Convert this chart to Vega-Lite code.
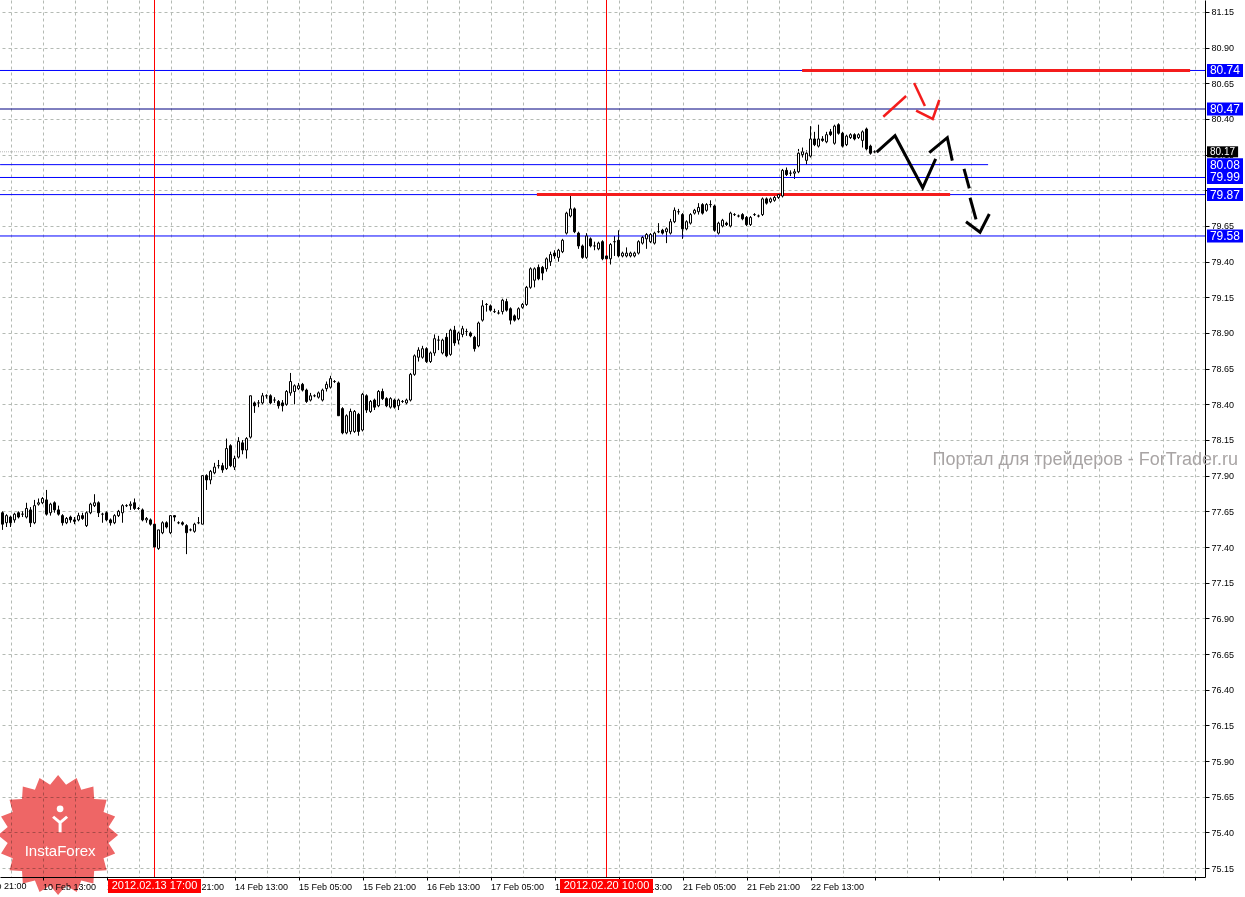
{
  "$schema": "https://vega.github.io/schema/vega-lite/v6.json",
  "width": 1205,
  "height": 877,
  "autosize": {"type": "none"},
  "padding": {"left": 0, "top": 0, "right": 40, "bottom": 20},
  "background": "white",
  "config": {"view": {"stroke": null}, "font": "Liberation Sans", "scale": {"continuousPadding": 0}},
  "datasets": {
    "candles": [
      {"i":0,"o":77.64,"h":77.65,"l":77.52,"c":77.56},{"i":1,"o":77.57,"h":77.63,"l":77.54,"c":77.62},{"i":2,"o":77.61,"h":77.62,"l":77.54,"c":77.57},{"i":3,"o":77.59,"h":77.64,"l":77.57,"c":77.63},{"i":4,"o":77.64,"h":77.65,"l":77.60,"c":77.61},{"i":5,"o":77.63,"h":77.65,"l":77.61,"c":77.63},{"i":6,"o":77.61,"h":77.71,"l":77.60,"c":77.67},{"i":7,"o":77.66,"h":77.68,"l":77.54,"c":77.57},{"i":8,"o":77.57,"h":77.73,"l":77.56,"c":77.69},{"i":9,"o":77.70,"h":77.74,"l":77.69,"c":77.71},
      {"i":10,"o":77.71,"h":77.75,"l":77.70,"c":77.74},{"i":11,"o":77.73,"h":77.80,"l":77.62,"c":77.63},{"i":12,"o":77.64,"h":77.71,"l":77.62,"c":77.70},{"i":13,"o":77.71,"h":77.72,"l":77.64,"c":77.66},{"i":14,"o":77.66,"h":77.69,"l":77.62,"c":77.63},{"i":15,"o":77.62,"h":77.63,"l":77.55,"c":77.57},{"i":16,"o":77.57,"h":77.61,"l":77.56,"c":77.60},{"i":17,"o":77.61,"h":77.62,"l":77.57,"c":77.59},{"i":18,"o":77.59,"h":77.61,"l":77.56,"c":77.58},{"i":19,"o":77.59,"h":77.64,"l":77.58,"c":77.62},
      {"i":20,"o":77.62,"h":77.64,"l":77.59,"c":77.60},{"i":21,"o":77.55,"h":77.65,"l":77.54,"c":77.64},{"i":22,"o":77.64,"h":77.71,"l":77.63,"c":77.70},{"i":23,"o":77.69,"h":77.77,"l":77.68,"c":77.71},{"i":24,"o":77.71,"h":77.72,"l":77.61,"c":77.64},{"i":25,"o":77.63,"h":77.64,"l":77.57,"c":77.63},{"i":26,"o":77.64,"h":77.65,"l":77.58,"c":77.59},{"i":27,"o":77.59,"h":77.60,"l":77.55,"c":77.57},{"i":28,"o":77.57,"h":77.63,"l":77.56,"c":77.62},{"i":29,"o":77.62,"h":77.66,"l":77.61,"c":77.65},
      {"i":30,"o":77.64,"h":77.70,"l":77.57,"c":77.69},{"i":31,"o":77.69,"h":77.70,"l":77.68,"c":77.69},{"i":32,"o":77.69,"h":77.72,"l":77.66,"c":77.70},{"i":33,"o":77.71,"h":77.74,"l":77.66,"c":77.67},{"i":34,"o":77.67,"h":77.68,"l":77.66,"c":77.67},{"i":35,"o":77.66,"h":77.67,"l":77.58,"c":77.59},{"i":36,"o":77.59,"h":77.61,"l":77.57,"c":77.60},{"i":37,"o":77.59,"h":77.60,"l":77.55,"c":77.56},{"i":38,"o":77.56,"h":77.57,"l":77.40,"c":77.40},{"i":39,"o":77.39,"h":77.52,"l":77.38,"c":77.52},
      {"i":40,"o":77.50,"h":77.58,"l":77.49,"c":77.57},{"i":41,"o":77.57,"h":77.58,"l":77.53,"c":77.54},{"i":42,"o":77.50,"h":77.62,"l":77.49,"c":77.62},{"i":43,"o":77.62,"h":77.62,"l":77.58,"c":77.61},{"i":44,"o":77.57,"h":77.58,"l":77.56,"c":77.57},{"i":45,"o":77.57,"h":77.58,"l":77.55,"c":77.56},{"i":46,"o":77.55,"h":77.56,"l":77.35,"c":77.50},{"i":47,"o":77.52,"h":77.53,"l":77.51,"c":77.52},{"i":48,"o":77.51,"h":77.57,"l":77.50,"c":77.56},{"i":49,"o":77.57,"h":77.61,"l":77.56,"c":77.57},
      {"i":50,"o":77.56,"h":77.90,"l":77.56,"c":77.90},{"i":51,"o":77.90,"h":77.91,"l":77.80,"c":77.87},{"i":52,"o":77.87,"h":77.94,"l":77.84,"c":77.93},{"i":53,"o":77.92,"h":77.99,"l":77.91,"c":77.96},{"i":54,"o":77.97,"h":78.01,"l":77.95,"c":77.97},{"i":55,"o":77.97,"h":77.99,"l":77.92,"c":77.94},{"i":56,"o":77.95,"h":78.16,"l":77.94,"c":78.09},{"i":57,"o":78.11,"h":78.12,"l":77.96,"c":77.97},{"i":58,"o":77.96,"h":78.04,"l":77.94,"c":78.02},{"i":59,"o":78.03,"h":78.17,"l":78.02,"c":78.14},
      {"i":60,"o":78.13,"h":78.15,"l":78.05,"c":78.08},{"i":61,"o":78.08,"h":78.17,"l":78.02,"c":78.16},{"i":62,"o":78.17,"h":78.46,"l":78.16,"c":78.46},{"i":63,"o":78.41,"h":78.42,"l":78.34,"c":78.39},{"i":64,"o":78.41,"h":78.43,"l":78.38,"c":78.41},{"i":65,"o":78.41,"h":78.48,"l":78.40,"c":78.46},{"i":66,"o":78.46,"h":78.47,"l":78.44,"c":78.46},{"i":67,"o":78.46,"h":78.47,"l":78.40,"c":78.41},{"i":68,"o":78.43,"h":78.45,"l":78.41,"c":78.43},{"i":69,"o":78.42,"h":78.43,"l":78.37,"c":78.39},
      {"i":70,"o":78.41,"h":78.43,"l":78.35,"c":78.39},{"i":71,"o":78.40,"h":78.50,"l":78.39,"c":78.49},{"i":72,"o":78.48,"h":78.62,"l":78.46,"c":78.56},{"i":73,"o":78.49,"h":78.54,"l":78.40,"c":78.53},{"i":74,"o":78.51,"h":78.55,"l":78.50,"c":78.53},{"i":75,"o":78.54,"h":78.55,"l":78.49,"c":78.50},{"i":76,"o":78.50,"h":78.51,"l":78.41,"c":78.42},{"i":77,"o":78.43,"h":78.48,"l":78.42,"c":78.46},{"i":78,"o":78.46,"h":78.47,"l":78.45,"c":78.46},{"i":79,"o":78.45,"h":78.49,"l":78.44,"c":78.48},
      {"i":80,"o":78.43,"h":78.51,"l":78.42,"c":78.50},{"i":81,"o":78.51,"h":78.56,"l":78.49,"c":78.54},{"i":82,"o":78.52,"h":78.60,"l":78.51,"c":78.58},{"i":83,"o":78.56,"h":78.57,"l":78.55,"c":78.56},{"i":84,"o":78.55,"h":78.56,"l":78.32,"c":78.32},{"i":85,"o":78.37,"h":78.38,"l":78.19,"c":78.20},{"i":86,"o":78.20,"h":78.33,"l":78.19,"c":78.32},{"i":87,"o":78.21,"h":78.37,"l":78.19,"c":78.35},{"i":88,"o":78.21,"h":78.36,"l":78.20,"c":78.35},{"i":89,"o":78.33,"h":78.34,"l":78.18,"c":78.21},
      {"i":90,"o":78.22,"h":78.48,"l":78.21,"c":78.47},{"i":91,"o":78.46,"h":78.47,"l":78.34,"c":78.36},{"i":92,"o":78.35,"h":78.43,"l":78.34,"c":78.42},{"i":93,"o":78.43,"h":78.44,"l":78.36,"c":78.38},{"i":94,"o":78.39,"h":78.50,"l":78.38,"c":78.49},{"i":95,"o":78.49,"h":78.51,"l":78.43,"c":78.44},{"i":96,"o":78.44,"h":78.45,"l":78.38,"c":78.39},{"i":97,"o":78.38,"h":78.45,"l":78.37,"c":78.44},{"i":98,"o":78.43,"h":78.44,"l":78.37,"c":78.38},{"i":99,"o":78.39,"h":78.44,"l":78.36,"c":78.43},
      {"i":100,"o":78.42,"h":78.43,"l":78.41,"c":78.42},{"i":101,"o":78.41,"h":78.44,"l":78.40,"c":78.43},{"i":102,"o":78.43,"h":78.62,"l":78.42,"c":78.61},{"i":103,"o":78.61,"h":78.75,"l":78.60,"c":78.74},{"i":104,"o":78.73,"h":78.80,"l":78.70,"c":78.78},{"i":105,"o":78.73,"h":78.81,"l":78.72,"c":78.79},{"i":106,"o":78.79,"h":78.80,"l":78.69,"c":78.70},{"i":107,"o":78.70,"h":78.77,"l":78.69,"c":78.76},{"i":108,"o":78.76,"h":78.89,"l":78.74,"c":78.86},{"i":109,"o":78.85,"h":78.88,"l":78.78,"c":78.85},
      {"i":110,"o":78.76,"h":78.86,"l":78.75,"c":78.85},{"i":111,"o":78.87,"h":78.90,"l":78.73,"c":78.74},{"i":112,"o":78.75,"h":78.93,"l":78.74,"c":78.92},{"i":113,"o":78.92,"h":78.95,"l":78.81,"c":78.83},{"i":114,"o":78.85,"h":78.91,"l":78.82,"c":78.90},{"i":115,"o":78.89,"h":78.95,"l":78.87,"c":78.93},{"i":116,"o":78.91,"h":78.93,"l":78.88,"c":78.91},{"i":117,"o":78.90,"h":78.91,"l":78.87,"c":78.88},{"i":118,"o":78.87,"h":78.88,"l":78.77,"c":78.79},{"i":119,"o":78.81,"h":78.98,"l":78.80,"c":78.97},
      {"i":120,"o":78.99,"h":79.13,"l":78.98,"c":79.09},{"i":121,"o":79.10,"h":79.11,"l":79.05,"c":79.10},{"i":122,"o":79.09,"h":79.10,"l":79.05,"c":79.06},{"i":123,"o":79.05,"h":79.07,"l":79.04,"c":79.05},{"i":124,"o":79.04,"h":79.06,"l":79.03,"c":79.04},{"i":125,"o":79.05,"h":79.14,"l":79.03,"c":79.13},{"i":126,"o":79.12,"h":79.14,"l":79.05,"c":79.06},{"i":127,"o":79.07,"h":79.08,"l":78.96,"c":78.99},{"i":128,"o":79.02,"h":79.03,"l":78.98,"c":78.99},{"i":129,"o":79.00,"h":79.08,"l":78.99,"c":79.07},
      {"i":130,"o":79.08,"h":79.11,"l":79.07,"c":79.10},{"i":131,"o":79.10,"h":79.23,"l":79.09,"c":79.22},{"i":132,"o":79.22,"h":79.36,"l":79.21,"c":79.35},{"i":133,"o":79.27,"h":79.36,"l":79.22,"c":79.35},{"i":134,"o":79.36,"h":79.38,"l":79.27,"c":79.28},{"i":135,"o":79.36,"h":79.37,"l":79.27,"c":79.32},{"i":136,"o":79.35,"h":79.43,"l":79.33,"c":79.42},{"i":137,"o":79.40,"h":79.47,"l":79.37,"c":79.45},{"i":138,"o":79.46,"h":79.48,"l":79.42,"c":79.44},{"i":139,"o":79.43,"h":79.49,"l":79.40,"c":79.48},
      {"i":140,"o":79.47,"h":79.56,"l":79.46,"c":79.55},{"i":141,"o":79.60,"h":79.75,"l":79.59,"c":79.74},{"i":142,"o":79.72,"h":79.88,"l":79.71,"c":79.77},{"i":143,"o":79.77,"h":79.78,"l":79.60,"c":79.61},{"i":144,"o":79.60,"h":79.61,"l":79.49,"c":79.51},{"i":145,"o":79.51,"h":79.52,"l":79.42,"c":79.43},{"i":146,"o":79.43,"h":79.60,"l":79.42,"c":79.58},{"i":147,"o":79.56,"h":79.57,"l":79.50,"c":79.51},{"i":148,"o":79.51,"h":79.54,"l":79.48,"c":79.51},{"i":149,"o":79.49,"h":79.54,"l":79.48,"c":79.53},
      {"i":150,"o":79.54,"h":79.55,"l":79.41,"c":79.42},{"i":151,"o":79.44,"h":79.45,"l":79.41,"c":79.42},{"i":152,"o":79.42,"h":79.53,"l":79.38,"c":79.52},{"i":153,"o":79.54,"h":79.58,"l":79.44,"c":79.54},{"i":154,"o":79.55,"h":79.62,"l":79.43,"c":79.44},{"i":155,"o":79.44,"h":79.47,"l":79.43,"c":79.46},{"i":156,"o":79.44,"h":79.50,"l":79.43,"c":79.46},{"i":157,"o":79.44,"h":79.47,"l":79.43,"c":79.46},{"i":158,"o":79.44,"h":79.47,"l":79.43,"c":79.46},{"i":159,"o":79.46,"h":79.55,"l":79.45,"c":79.54},
      {"i":160,"o":79.53,"h":79.58,"l":79.52,"c":79.57},{"i":161,"o":79.56,"h":79.60,"l":79.49,"c":79.59},{"i":162,"o":79.54,"h":79.60,"l":79.53,"c":79.59},{"i":163,"o":79.53,"h":79.61,"l":79.52,"c":79.60},{"i":164,"o":79.61,"h":79.67,"l":79.60,"c":79.61},{"i":165,"o":79.62,"h":79.63,"l":79.59,"c":79.60},{"i":166,"o":79.61,"h":79.64,"l":79.53,"c":79.63},{"i":167,"o":79.60,"h":79.70,"l":79.59,"c":79.68},{"i":168,"o":79.68,"h":79.78,"l":79.67,"c":79.76},{"i":169,"o":79.75,"h":79.77,"l":79.73,"c":79.75},
      {"i":170,"o":79.73,"h":79.74,"l":79.56,"c":79.63},{"i":171,"o":79.63,"h":79.69,"l":79.62,"c":79.68},{"i":172,"o":79.67,"h":79.74,"l":79.66,"c":79.73},{"i":173,"o":79.74,"h":79.77,"l":79.73,"c":79.76},{"i":174,"o":79.75,"h":79.81,"l":79.73,"c":79.78},{"i":175,"o":79.80,"h":79.81,"l":79.73,"c":79.74},{"i":176,"o":79.76,"h":79.81,"l":79.75,"c":79.80},{"i":177,"o":79.80,"h":79.83,"l":79.78,"c":79.80},{"i":178,"o":79.79,"h":79.80,"l":79.61,"c":79.62},{"i":179,"o":79.60,"h":79.68,"l":79.59,"c":79.67},
      {"i":180,"o":79.65,"h":79.70,"l":79.64,"c":79.69},{"i":181,"o":79.67,"h":79.68,"l":79.65,"c":79.66},{"i":182,"o":79.65,"h":79.75,"l":79.64,"c":79.74},{"i":183,"o":79.73,"h":79.74,"l":79.72,"c":79.73},{"i":184,"o":79.72,"h":79.73,"l":79.71,"c":79.72},{"i":185,"o":79.73,"h":79.74,"l":79.69,"c":79.70},{"i":186,"o":79.71,"h":79.72,"l":79.65,"c":79.66},{"i":187,"o":79.66,"h":79.72,"l":79.65,"c":79.71},{"i":188,"o":79.73,"h":79.74,"l":79.72,"c":79.73},{"i":189,"o":79.72,"h":79.73,"l":79.71,"c":79.72},
      {"i":190,"o":79.73,"h":79.85,"l":79.72,"c":79.84},{"i":191,"o":79.84,"h":79.85,"l":79.80,"c":79.81},{"i":192,"o":79.82,"h":79.85,"l":79.81,"c":79.84},{"i":193,"o":79.83,"h":79.87,"l":79.82,"c":79.85},{"i":194,"o":79.85,"h":79.88,"l":79.84,"c":79.87},{"i":195,"o":79.86,"h":80.05,"l":79.85,"c":80.04},{"i":196,"o":80.04,"h":80.06,"l":80.00,"c":80.01},{"i":197,"o":80.02,"h":80.04,"l":80.00,"c":80.02},{"i":198,"o":80.02,"h":80.05,"l":79.98,"c":80.03},{"i":199,"o":80.03,"h":80.19,"l":80.02,"c":80.16},
      {"i":200,"o":80.15,"h":80.20,"l":80.13,"c":80.17},{"i":201,"o":80.11,"h":80.18,"l":80.08,"c":80.16},{"i":202,"o":80.14,"h":80.35,"l":80.13,"c":80.26},{"i":203,"o":80.26,"h":80.31,"l":80.21,"c":80.22},{"i":204,"o":80.21,"h":80.36,"l":80.20,"c":80.26},{"i":205,"o":80.26,"h":80.28,"l":80.24,"c":80.25},{"i":206,"o":80.24,"h":80.31,"l":80.23,"c":80.29},{"i":207,"o":80.31,"h":80.33,"l":80.28,"c":80.29},{"i":208,"o":80.23,"h":80.36,"l":80.22,"c":80.35},{"i":209,"o":80.36,"h":80.37,"l":80.29,"c":80.30},
      {"i":210,"o":80.30,"h":80.31,"l":80.20,"c":80.21},{"i":211,"o":80.22,"h":80.29,"l":80.21,"c":80.28},{"i":212,"o":80.27,"h":80.30,"l":80.26,"c":80.29},{"i":213,"o":80.29,"h":80.30,"l":80.25,"c":80.26},{"i":214,"o":80.27,"h":80.30,"l":80.26,"c":80.29},{"i":215,"o":80.25,"h":80.32,"l":80.20,"c":80.31},{"i":216,"o":80.33,"h":80.34,"l":80.18,"c":80.19},{"i":217,"o":80.21,"h":80.22,"l":80.15,"c":80.16},{"i":218,"o":80.17,"h":80.18,"l":80.16,"c":80.17}
    ],
    "levels": [
      {"p": 80.74, "col": "#0000ff"},
      {"p": 80.47, "col": "#000080"},
      {"p": 79.99, "col": "#0000ff"},
      {"p": 79.87, "col": "#0000ff"},
      {"p": 79.58, "col": "#0000ff"}
    ],
    "partial": [{"p": 80.08, "from": -0.6, "to": 246.4}],
    "bid": [{"p": 80.17}],
    "vlines": [
      {"i": 38, "label": "2012.02.13 17:00"},
      {"i": 151, "label": "2012.02.20 10:00"}
    ],
    "trend": [
      {"p": 80.74, "from": 199.9, "to": 296.9},
      {"p": 79.87, "from": 133.6, "to": 236.9}
    ],
    "forecast": [
      {"seg": "a", "k": 0, "i": 218.55, "p": 80.167},
      {"seg": "a", "k": 1, "i": 223.13, "p": 80.283},
      {"seg": "a", "k": 2, "i": 230.05, "p": 79.918},
      {"seg": "a", "k": 3, "i": 233.3, "p": 80.12},
      {"seg": "b", "k": 0, "i": 231.7, "p": 80.164},
      {"seg": "b", "k": 1, "i": 236.2, "p": 80.269},
      {"seg": "b", "k": 2, "i": 237.45, "p": 80.108},
      {"seg": "c", "k": 0, "i": 240.38, "p": 80.05},
      {"seg": "c", "k": 1, "i": 241.7, "p": 79.914},
      {"seg": "d", "k": 0, "i": 241.88, "p": 79.848},
      {"seg": "d", "k": 1, "i": 243.38, "p": 79.697},
      {"seg": "e", "k": 0, "i": 240.88, "p": 79.68},
      {"seg": "e", "k": 1, "i": 244.38, "p": 79.606},
      {"seg": "e", "k": 2, "i": 246.7, "p": 79.734}
    ],
    "redArrows": [
      {"seg": "r1", "k": 0, "i": 220.2, "p": 80.416},
      {"seg": "r1", "k": 1, "i": 225.9, "p": 80.561},
      {"seg": "r2", "k": 0, "i": 227.9, "p": 80.652},
      {"seg": "r2", "k": 1, "i": 230.6, "p": 80.491},
      {"seg": "r3", "k": 0, "i": 228.4, "p": 80.458},
      {"seg": "r3", "k": 1, "i": 232.55, "p": 80.40},
      {"seg": "r3", "k": 2, "i": 234.2, "p": 80.533}
    ],
    "blueTags": [{"p": 80.74}, {"p": 80.47}, {"p": 80.08}, {"p": 79.99}, {"p": 79.87}, {"p": 79.58}],
    "blackTags": [{"p": 80.17}]
  },
  "layer": [
    {
      "data": {"name": "candles"},
      "mark": {"type": "rule", "color": "black", "strokeWidth": 1},
      "encoding": {
        "x": {
          "field": "i", "type": "quantitative", "title": null,
          "scale": {"domain": [-0.625, 300.625], "nice": false, "zero": false, "padding": 0},
          "axis": {
            "orient": "bottom", "title": null, "tickCount": 200,
            "values": [2,10,18,26,34,42,50,58,66,74,82,90,98,106,114,122,130,138,146,154,162,170,178,186,194,202,210,218,226,234,242,250,258,266,274,282,290,298],
            "grid": true, "gridDash": [3, 3], "gridColor": "#b4bab4", "gridWidth": 1,
            "domainColor": "black", "domainWidth": 1,
            "tickColor": "black", "tickSize": 3,
            "tickOpacity": {"condition": {"test": "(datum.value + 6) % 16 == 0", "value": 1}, "value": 0},
            "labelExpr": "(datum.value + 6) % 16 == 0 ? (['9 Feb 21:00','10 Feb 13:00','13 Feb 05:00','13 Feb 21:00','14 Feb 13:00','15 Feb 05:00','15 Feb 21:00','16 Feb 13:00','17 Feb 05:00','17 Feb 21:00','20 Feb 13:00','21 Feb 05:00','21 Feb 21:00','22 Feb 13:00'][(datum.value + 6) / 16] || '') : ''",
            "labelAlign": "left", "labelFontSize": 9, "labelColor": "black", "labelPadding": 2,
            "labelOverlap": false, "labelFlush": false, "labelBound": false
          }
        },
        "y": {
          "field": "l", "type": "quantitative", "title": null,
          "scale": {"domain": [75.087, 81.234], "nice": false, "zero": false, "padding": 0},
          "axis": {
            "orient": "right", "title": null, "tickCount": 200,
            "values": [75.15,75.40,75.65,75.90,76.15,76.40,76.65,76.90,77.15,77.40,77.65,77.90,78.15,78.40,78.65,78.90,79.15,79.40,79.65,79.90,80.15,80.40,80.65,80.90,81.15],
            "format": ".2f",
            "grid": true, "gridDash": [3, 3], "gridColor": "#b4bab4", "gridWidth": 1,
            "domainColor": "black", "domainWidth": 1,
            "tickColor": "black", "tickSize": 4,
            "labelFontSize": 9, "labelColor": "black", "labelPadding": 2,
            "labelOverlap": false, "labelFlush": false, "labelBound": false
          }
        },
        "y2": {"field": "h"}
      }
    },
    {
      "data": {"values": [{"i": -6, "t": "9 Feb 21:00"}]},
      "mark": {"type": "text", "color": "black", "fontSize": 9, "align": "left", "baseline": "top", "dy": 5},
      "encoding": {
        "x": {"field": "i", "type": "quantitative", "title": null},
        "y": {"datum": 75.087, "title": null},
        "text": {"field": "t"}
      }
    },
    {
      "data": {"name": "bid"},
      "mark": {"type": "rule", "color": "#b8b8b8", "strokeWidth": 1, "strokeDash": [1, 1]},
      "encoding": {"y": {"field": "p", "type": "quantitative", "title": null}}
    },
    {
      "data": {"name": "levels"},
      "mark": {"type": "rule", "strokeWidth": 1},
      "encoding": {
        "y": {"field": "p", "type": "quantitative", "title": null},
        "color": {"field": "col", "type": "nominal", "scale": null}
      }
    },
    {
      "data": {"name": "partial"},
      "mark": {"type": "rule", "color": "#0000ff", "strokeWidth": 1},
      "encoding": {
        "x": {"field": "from", "type": "quantitative", "title": null},
        "x2": {"field": "to"},
        "y": {"field": "p", "type": "quantitative", "title": null}
      }
    },
    {
      "data": {"name": "vlines"},
      "mark": {"type": "rule", "color": "#ff0000", "strokeWidth": 1},
      "encoding": {"x": {"field": "i", "type": "quantitative", "title": null}}
    },
    {
      "data": {"name": "trend"},
      "mark": {"type": "rule", "color": "#f41c1c", "strokeWidth": 3},
      "encoding": {
        "x": {"field": "from", "type": "quantitative", "title": null},
        "x2": {"field": "to"},
        "y": {"field": "p", "type": "quantitative", "title": null}
      }
    },
    {
      "data": {"name": "candles"},
      "mark": {"type": "bar", "width": 2, "stroke": "black", "strokeWidth": 1, "orient": "vertical"},
      "encoding": {
        "x": {"field": "i", "type": "quantitative", "title": null},
        "y": {"field": "o", "type": "quantitative", "title": null},
        "y2": {"field": "c"},
        "fill": {"condition": {"test": "datum.c >= datum.o", "value": "white"}, "value": "black"}
      }
    },
    {
      "data": {"name": "forecast"},
      "mark": {"type": "line", "color": "black", "strokeWidth": 3, "strokeCap": "butt"},
      "encoding": {
        "x": {"field": "i", "type": "quantitative", "title": null},
        "y": {"field": "p", "type": "quantitative", "title": null},
        "detail": {"field": "seg"},
        "order": {"field": "k"}
      }
    },
    {
      "data": {"name": "redArrows"},
      "mark": {"type": "line", "color": "#f41c1c", "strokeWidth": 2.5, "strokeCap": "butt"},
      "encoding": {
        "x": {"field": "i", "type": "quantitative", "title": null},
        "y": {"field": "p", "type": "quantitative", "title": null},
        "detail": {"field": "seg"},
        "order": {"field": "k"}
      }
    },
    {
      "data": {"name": "blueTags"},
      "mark": {"type": "bar", "color": "#0000ff", "height": 13, "orient": "horizontal"},
      "encoding": {
        "x": {"datum": 301.125, "title": null},
        "x2": {"datum": 310.125},
        "y": {"field": "p", "type": "quantitative", "title": null}
      }
    },
    {
      "data": {"name": "blueTags"},
      "mark": {"type": "text", "color": "white", "fontSize": 12, "align": "center", "baseline": "middle"},
      "encoding": {
        "x": {"datum": 305.6, "title": null},
        "y": {"field": "p", "type": "quantitative", "title": null},
        "text": {"field": "p", "type": "quantitative", "format": ".2f"}
      }
    },
    {
      "data": {"name": "blackTags"},
      "mark": {"type": "bar", "color": "black", "height": 11, "orient": "horizontal"},
      "encoding": {
        "x": {"datum": 301.125, "title": null},
        "x2": {"datum": 308.9},
        "y": {"field": "p", "type": "quantitative", "title": null}
      }
    },
    {
      "data": {"name": "blackTags"},
      "mark": {"type": "text", "color": "white", "fontSize": 10, "align": "center", "baseline": "middle"},
      "encoding": {
        "x": {"datum": 305.0, "title": null},
        "y": {"field": "p", "type": "quantitative", "title": null},
        "text": {"field": "p", "type": "quantitative", "format": ".2f"}
      }
    },
    {
      "data": {"name": "vlines"},
      "mark": {"type": "bar", "color": "#ff0000", "width": 93, "orient": "vertical"},
      "encoding": {
        "x": {"field": "i", "type": "quantitative", "title": null},
        "y": {"datum": 75.073, "title": null},
        "y2": {"datum": 74.975}
      }
    },
    {
      "data": {"name": "vlines"},
      "mark": {"type": "text", "color": "white", "fontSize": 11, "align": "center", "baseline": "middle"},
      "encoding": {
        "x": {"field": "i", "type": "quantitative", "title": null},
        "y": {"datum": 75.024, "title": null},
        "text": {"field": "label"}
      }
    },
    {
      "data": {"values": [{"t": "Портал для трейдеров - ForTrader.ru"}]},
      "mark": {"type": "text", "color": "#a8a4a4", "fontSize": 18, "align": "right", "baseline": "middle"},
      "encoding": {
        "x": {"datum": 308.9, "title": null},
        "y": {"datum": 78.01, "title": null},
        "text": {"field": "t"}
      }
    },
    {
      "data": {"values": [{"name": "InstaForex"}]},
      "mark": {"type": "point", "filled": true, "color": "#ee6666", "opacity": 1, "blend": "multiply", "size": 14400,
        "shape": "M1,0L0.840,0.133L0.951,0.309L0.757,0.386L0.809,0.588L0.601,0.601L0.588,0.809L0.386,0.757L0.309,0.951L0.133,0.840L0,1L-0.133,0.840L-0.309,0.951L-0.386,0.757L-0.588,0.809L-0.601,0.601L-0.809,0.588L-0.757,0.386L-0.951,0.309L-0.840,0.133L-1,0L-0.840,-0.133L-0.951,-0.309L-0.757,-0.386L-0.809,-0.588L-0.601,-0.601L-0.588,-0.809L-0.386,-0.757L-0.309,-0.951L-0.133,-0.840L0,-1L0.133,-0.840L0.309,-0.951L0.386,-0.757L0.588,-0.809L0.601,-0.601L0.809,-0.588L0.757,-0.386L0.951,-0.309L0.840,-0.133Z"},
      "encoding": {
        "x": {"datum": 13.9, "title": null},
        "y": {"datum": 75.381, "title": null}
      }
    },
    {
      "data": {"values": [{"name": "InstaForex"}]},
      "mark": {"type": "point", "filled": true, "color": "white", "opacity": 1, "size": 400,
        "shape": "M-0.15,1L-0.15,0.1L-0.8,-0.45L-0.6,-0.65L0,-0.15L0.6,-0.65L0.8,-0.45L0.15,0.1L0.15,1Z"},
      "encoding": {
        "x": {"datum": 14.4, "title": null},
        "y": {"datum": 75.47, "title": null}
      }
    },
    {
      "data": {"values": [{"name": "InstaForex"}]},
      "mark": {"type": "point", "filled": true, "color": "white", "opacity": 1, "size": 45, "shape": "circle"},
      "encoding": {
        "x": {"datum": 14.4, "title": null},
        "y": {"datum": 75.565, "title": null}
      }
    },
    {
      "data": {"values": [{"name": "InstaForex"}]},
      "mark": {"type": "text", "color": "white", "fontSize": 15, "align": "center", "baseline": "middle"},
      "encoding": {
        "x": {"datum": 14.4, "title": null},
        "y": {"datum": 75.269, "title": null},
        "text": {"field": "name"}
      }
    }
  ]
}
